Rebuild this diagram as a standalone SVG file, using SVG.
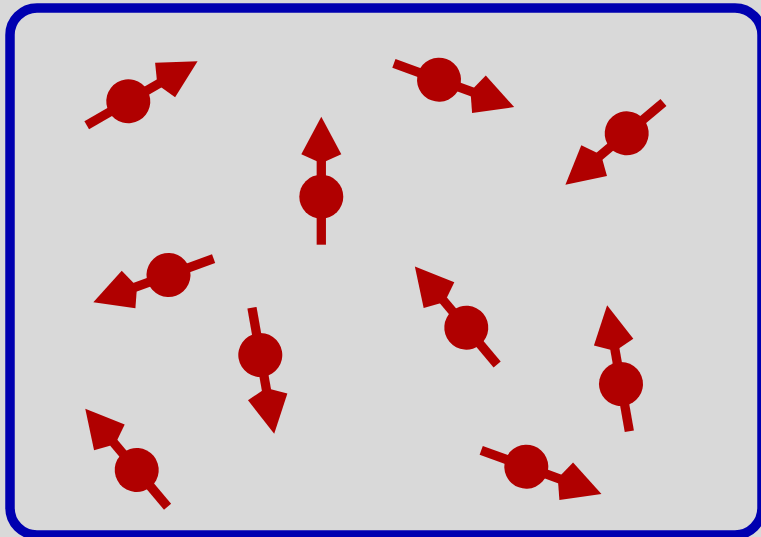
<svg xmlns="http://www.w3.org/2000/svg" xmlns:xlink="http://www.w3.org/1999/xlink" width="761" height="537" viewBox="0 0 761 537">
  <style>
    .bg { fill: #d9d9d9; }
    .frame { fill: #d9d9d9; stroke: #0000b0; stroke-width: 9.5; }
    .shaft { stroke: #b00000; stroke-width: 9.3; fill: none; }
    .red { fill: #b00000; }
  </style>
  <defs>
    <g id="spin">
      <line class="shaft" x1="0" y1="48" x2="0" y2="-36"/>
      <circle class="red" cx="0" cy="0" r="22"/>
      <polygon class="red" points="0,-80 20,-42.5 0,-33.5 -20,-42.5"/>
    </g>
  </defs>
  <rect class="bg" x="0" y="0" width="761" height="537"/>
  <rect class="frame" x="10" y="8" width="752" height="527" rx="27" ry="27"/>
  <g id="spin1"><use xlink:href="#spin" href="#spin" transform="translate(128.3,101.3) rotate(60)"/></g>
  <g id="spin2"><use xlink:href="#spin" href="#spin" transform="translate(439,79.7) rotate(110)"/></g>
  <g id="spin3"><use xlink:href="#spin" href="#spin" transform="translate(626.7,133.3) rotate(230)"/></g>
  <g id="spin4"><use xlink:href="#spin" href="#spin" transform="translate(321.3,196.7) rotate(0)"/></g>
  <g id="spin5"><use xlink:href="#spin" href="#spin" transform="translate(168.5,275) rotate(250)"/></g>
  <g id="spin6"><use xlink:href="#spin" href="#spin" transform="translate(260.3,355) rotate(170)"/></g>
  <g id="spin7"><use xlink:href="#spin" href="#spin" transform="translate(466.3,327.7) rotate(-40)"/></g>
  <g id="spin8"><use xlink:href="#spin" href="#spin" transform="translate(621,384) rotate(-10)"/></g>
  <g id="spin9"><use xlink:href="#spin" href="#spin" transform="translate(136.7,470) rotate(-40)"/></g>
  <g id="spin10"><use xlink:href="#spin" href="#spin" transform="translate(526.3,466.7) rotate(110)"/></g>
</svg>
